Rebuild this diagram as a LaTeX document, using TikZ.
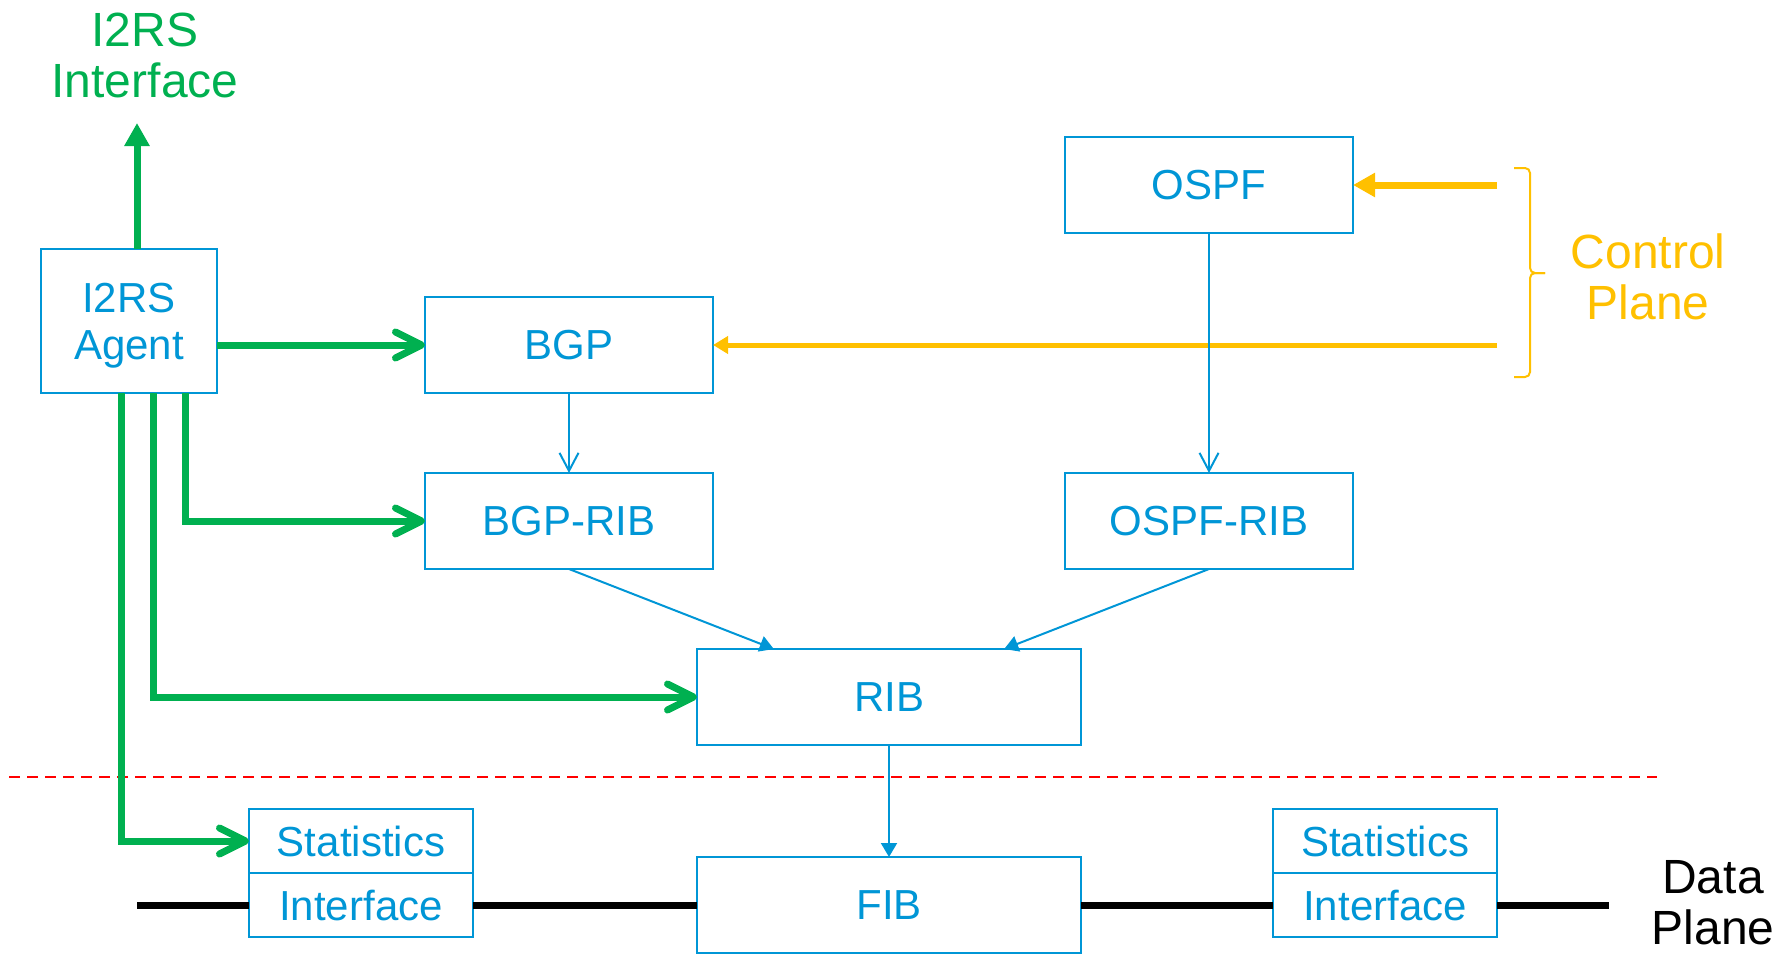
\documentclass[tikz,border=0pt]{standalone}
\usepackage{fontspec}
\setmainfont{Liberation Sans}
\usetikzlibrary{positioning,arrows.meta,calc}
\definecolor{boxblue}{RGB}{0,150,214}
\definecolor{agentgreen}{RGB}{0,176,80}
\definecolor{ctrlyellow}{RGB}{255,192,0}
\tikzstyle{boxed} = [rectangle, draw=boxblue, line width=1pt, fill=white, text=boxblue, inner sep=0pt, outer sep=0pt, text centered, font=\fontsize{21}{23.5}\selectfont]
\tikzstyle{wide} = [boxed, minimum width=144pt, minimum height=48pt]
\tikzstyle{wider} = [boxed, minimum width=192pt, minimum height=48pt]
\tikzstyle{cell} = [boxed, minimum width=112pt, minimum height=32pt]
\tikzstyle{planelabel} = [align=center, font=\fontsize{24}{25.5}\selectfont]
\tikzstyle{feed} = [boxblue, line width=1pt, -{Straight Barb[length=9pt,width=9.5pt]}]
\tikzstyle{flow} = [boxblue, line width=1pt, -{Triangle[length=7pt,width=8pt]}]
\tikzstyle{agentlink} = [agentgreen, line width=3.5pt, -{Straight Barb[length=13pt,width=13pt,round]}]
\tikzstyle{uplink} = [agentgreen, line width=3.5pt, -{Triangle[length=11.5pt,width=12pt]}]
\tikzstyle{ctrlheavy} = [ctrlyellow, line width=3.5pt, -{Triangle[length=11pt,width=11.5pt]}]
\tikzstyle{ctrllight} = [ctrlyellow, line width=2.5pt, -{Triangle[length=7.5pt,width=8.5pt]}]
\tikzstyle{bracket} = [ctrlyellow, line width=1pt, rounded corners=2.5pt]
\tikzstyle{dataline} = [black, line width=3.5pt]
\tikzstyle{sep} = [red, line width=1.2pt, dash pattern=on 5.5pt off 3.5pt]

\begin{document}
\begin{tikzpicture}[x=0.5pt,y=-0.5pt]
			\useasboundingbox (0,0) rectangle (1792,953);
			\node (agent) [boxed, minimum width=88pt, minimum height=72pt, align=center, text depth=0pt] at (129,321) {I2RS\\Agent};
			\node (bgp) [wide] at (569,345) {BGP};
			\node (bgprib) [wide,below=40pt of bgp] {BGP-RIB};
			\node (ospf) [wide] at (1209,185) {OSPF};
			\node (ospfrib) [wide] at (1209,521) {OSPF-RIB};
			%-----------------------------------------------
			\node (rib) [wider] at (889,697) {RIB};
			\node (fib) [wider] at (889,905) {FIB};
			%-----------------------------------------------
			\node (statsL) [cell] at (361,841) {Statistics};
			\node (ifL) [cell,below=0pt of statsL] {Interface};
			\node (statsR) [cell] at (1385,841) {Statistics};
			\node (ifR) [cell,below=0pt of statsR] {Interface};
			%-----------------------------------------------
			\node (i2rsif) [planelabel, text=agentgreen] at (145,55) {I2RS\\Interface};
			\node (ctrl) [planelabel, text=ctrlyellow] at (1648,277) {Control\\Plane};
			\node (data) [planelabel, text=black] at (1713,903) {Data\\Plane};
			%-----------------------------------------------
			\coordinate (ifup) at (137,123);
			\coordinate (cpA) at (1497,185);
			\coordinate (cpB) at (1497,345);
			\coordinate (dpL) at (137,905);
			\coordinate (dpR) at (1609,905);
			\coordinate (sepL) at (9,777);
			\coordinate (sepR) at (1657,777);
			
			%-----------------------------------------------
			%-----------------------------------------------
			
			\draw [sep] (sepL) -- (sepR);
			\draw [dataline] (dpL) -- (ifL.west);
			\draw [dataline] (ifL.east) -- (fib.west);
			\draw [dataline] (fib.east) -- (ifR.west);
			\draw [dataline] (ifR.east) -- (dpR);
			\draw [ctrlheavy] (cpA) -- (ospf.east);
			\draw [ctrllight] (cpB) -- (bgp.east);
			\draw [bracket] (1514,168) -- (1530,168) -- (1530,273) -- (1545,273);
			\draw [bracket] (1545,273) -- (1530,273) -- (1530,377) -- (1514,377);
			\draw [feed] (bgp) -- (bgprib);
			\draw [feed] (ospf) -- (ospfrib);
			\draw [flow] (bgprib.south) -- ($(rib.north west)!0.2!(rib.north east)$);
			\draw [flow] (ospfrib.south) -- ($(rib.north west)!0.8!(rib.north east)$);
			\draw [flow] (rib) -- (fib);
			\draw [uplink] ([xshift=4pt]agent.north) -- (ifup);
			\draw [agentlink] (agent.east |- bgp.west) -- (bgp.west);
			\draw [agentlink] ([xshift=28pt]agent.south) |- (bgprib.west);
			\draw [agentlink] ([xshift=12pt]agent.south) |- (rib.west);
			\draw [agentlink] ([xshift=-4pt]agent.south) |- (statsL.west);
\end{tikzpicture}
\end{document}
